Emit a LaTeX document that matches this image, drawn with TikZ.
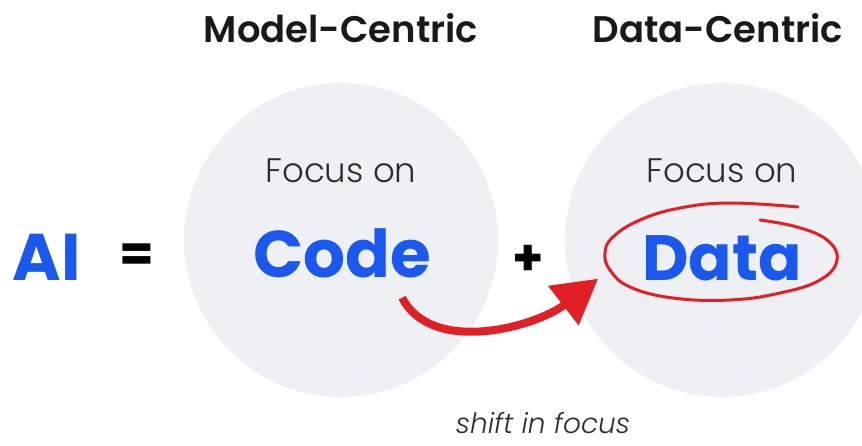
\documentclass[tikz,border=0pt]{standalone}
\usepackage{fontspec}
\setmainfont{Poppins}
\newfontfamily\headfont{Poppins SemiBold}
\newfontfamily\lightfont{Poppins Light}
\usetikzlibrary{arrows.meta,positioning}
\definecolor{keyblue}{RGB}{26,88,240}
\definecolor{markred}{RGB}{226,30,38}
\definecolor{bubblegrey}{RGB}{238,240,244}
\definecolor{inkgrey}{RGB}{45,45,45}

\begin{document}
\begin{tikzpicture}[
    x=1pt, y=-1pt,
    bubble/.style={circle, fill=bubblegrey, minimum size=314pt, inner sep=0pt},
    headline/.style={anchor=base, inner sep=0pt,
      font=\headfont\fontsize{37}{42}\selectfont, text=black!90},
    focuslabel/.style={anchor=base, inner sep=0pt,
      font=\lightfont\fontsize{34}{40}\selectfont, text=inkgrey},
    keyword/.style={anchor=base, inner sep=0pt,
      font=\bfseries\fontsize{66}{70}\selectfont, text=keyblue},
    opsign/.style={inner sep=0pt, font=\bfseries\fontsize{50}{56}\selectfont},
    shiftarrow/.style={-{Triangle[length=44pt, width=48pt]}, line width=8pt, draw=markred},
    scribble/.style={draw=markred, line width=3pt, line cap=round}
  ]
  \useasboundingbox (0,0) rectangle (862,445);
  \clip (0,0) rectangle (862,445);

  \node[bubble] (modelbubble) at (341,240) {};
  \node[bubble] (databubble) at (722,240) {};

  \node[headline] (modeltitle) at (341,42) {Model-Centric};
  \node[headline] (datatitle) at (718,42) {Data-Centric};
  \node[focuslabel] (focuscode) at (341,182) {Focus on};
  \node[focuslabel] (focusdata) at (722,182) {Focus on};

  \node[keyword] (ai) at (47,280) {AI};
  \node[opsign] (equals) at (137,258) {=};
  \node[keyword] (code) at (342,277) {Code};
  \node[opsign] (plus) at (528,260) {+};
  \node[keyword, font=\bfseries\fontsize{64}{70}\selectfont] (data) at (722,280) {Data};

  \node[anchor=base, inner sep=0pt, text=inkgrey,
    font=\lightfont\itshape\fontsize{28}{32}\selectfont] (shiftlabel) at (543,433) {shift in focus};

  % hand drawn ring round Data
  \draw[scribble, shift={(data.base)}] plot[smooth, tension=0.7] coordinates {
    (76,-73) (8,-77) (-42,-72) (-82,-60) (-109,-43) (-117,-27) (-112,-10)
    (-92,7) (-49,18) (8,20) (58,13) (98,0) (115,-20) (105,-40) (75,-53) (38,-60)};

  \coordinate (shifttip) at ([xshift=-44pt, yshift=2pt]data.south west);
  \draw[shiftarrow] ([xshift=-29pt, yshift=-20pt]code.south east)
    .. controls +(30,58) and +(-62,48) .. (shifttip);
\end{tikzpicture}
\end{document}
